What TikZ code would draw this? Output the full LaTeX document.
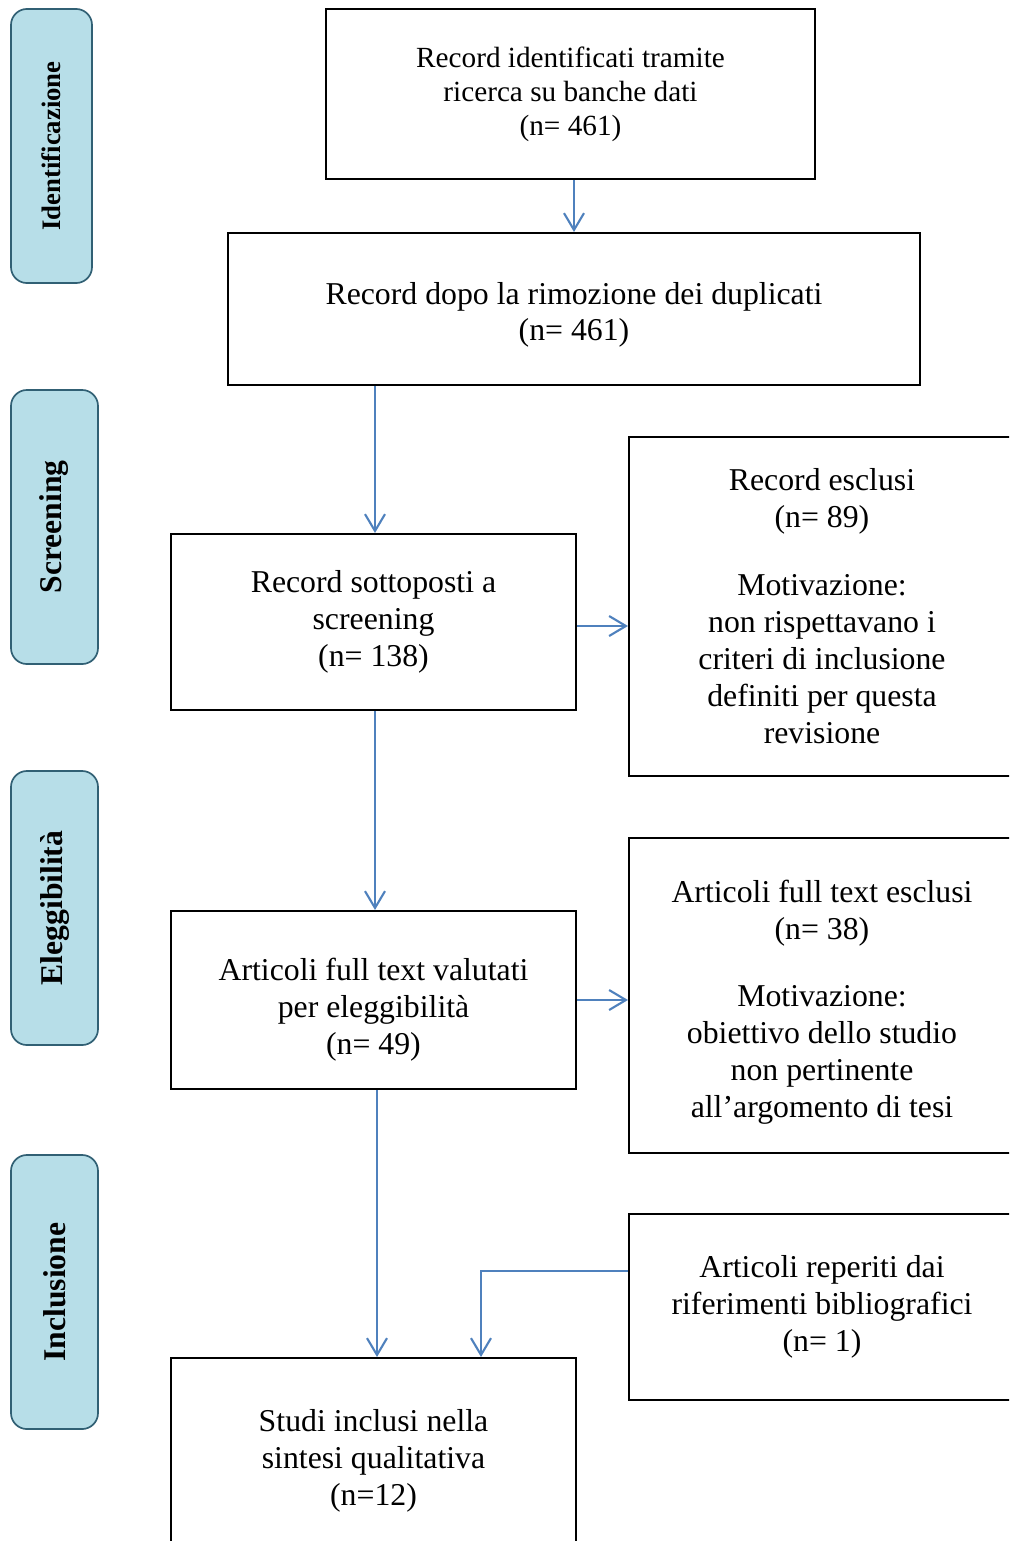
\documentclass[tikz,border=0pt]{standalone}
\usepackage{fontspec}
\setmainfont{Liberation Serif}
\usetikzlibrary{arrows.meta,calc}
\definecolor{FlowBlue}{RGB}{79,129,189}
\definecolor{PhaseFill}{RGB}{183,222,232}
\definecolor{PhaseEdge}{RGB}{49,96,116}

\tikzset{
  box/.style={draw, line width=1.4pt, align=center, inner sep=2pt, font=\fontsize{22.6}{26.3}\selectfont},
  phase/.style={draw=PhaseEdge, fill=PhaseFill, line width=1.2pt, rounded corners=0.4cm, rotate=90, font=\bfseries\fontsize{22.5}{26}\selectfont},
  flow/.style={-{Straight Barb[length=0.42cm, width=0.5cm]}, FlowBlue, line width=1.5pt}
}

\begin{document}
\begin{tikzpicture}[x=0.025cm, y=-0.025cm]
  \useasboundingbox (0,0) rectangle (1009,1541);
  \clip (0,0) rectangle (1009,1541);

  % phases on the left
  \node[phase, minimum width=6.85cm, minimum height=2.025cm, font=\bfseries\fontsize{19}{23}\selectfont] (pid) at (51.5,146) {Identificazione};
  \node[phase, minimum width=6.85cm, minimum height=2.175cm] (pscr) at (54.5,527) {Screening};
  \node[phase, minimum width=6.85cm, minimum height=2.175cm] (pel) at (54.5,908) {Eleggibilità};
  \node[phase, minimum width=6.85cm, minimum height=2.175cm] (pinc) at (54.5,1292) {Inclusione};

  % main column
  \node[box, minimum width=12.225cm, minimum height=4.25cm, font=\fontsize{20.8}{24.2}\selectfont] (ident) at (570.5,94) {Record identificati tramite\\ricerca su banche dati\\(n= 461)};
  \node[box, minimum width=17.3cm, minimum height=3.8cm] (dup) at (574,309) {\rule{0pt}{24pt}Record dopo la rimozione dei duplicati\\(n= 461)};
  \node[box, minimum width=10.125cm, minimum height=4.4cm] (scr) at (373.5,622) {Record sottoposti a\\screening\\(n= 138)};
  \node[box, minimum width=10.125cm, minimum height=4.45cm] (elig) at (373.5,1000) {\rule{0pt}{29.5pt}Articoli full text valutati\\per eleggibilità\\(n= 49)};
  \node[box, minimum width=10.125cm, minimum height=4.95cm] (incl) at (373.5,1457) {\rule{0pt}{21pt}Studi inclusi nella\\sintesi qualitativa\\(n=12)};

  % right column
  \node[box, minimum width=9.65cm, minimum height=8.475cm] (excl) at (822,606.5) {Record esclusi\\(n= 89)\\[22pt]Motivazione:\\non rispettavano i\\criteri di inclusione\\definiti per questa\\revisione};
  \node[box, minimum width=9.65cm, minimum height=7.875cm] (fexcl) at (822,995.5) {\rule{0pt}{25.5pt}Articoli full text esclusi\\(n= 38)\\[22pt]Motivazione:\\obiettivo dello studio\\non pertinente\\all’argomento di tesi};
  \node[box, minimum width=9.65cm, minimum height=4.65cm] (refs) at (822,1307) {Articoli reperiti dai\\riferimenti bibliografici\\(n= 1)};

  \coordinate (join) at (481,1271);

  \draw[flow] (ident.south -| dup.north) -- (dup.north);
  \draw[flow] ($(dup.south -| scr.north)+(1.5,0)$) -- ($(scr.north)+(1.5,0)$);
  \draw[flow] ($(scr.east)+(0,4)$) -- ($(excl.west |- scr.east)+(0,4)$);
  \draw[flow] ($(scr.south)+(1.5,0)$) -- ($(elig.north)+(1.5,0)$);
  \draw[flow] (elig.east) -- (fexcl.west |- elig.east);
  \draw[flow] ($(elig.south)+(3.5,0)$) -- ($(incl.north)+(3.5,0)$);
  \draw[flow] (refs.west |- join) -- (join) -- (join |- incl.north);
\end{tikzpicture}
\end{document}
